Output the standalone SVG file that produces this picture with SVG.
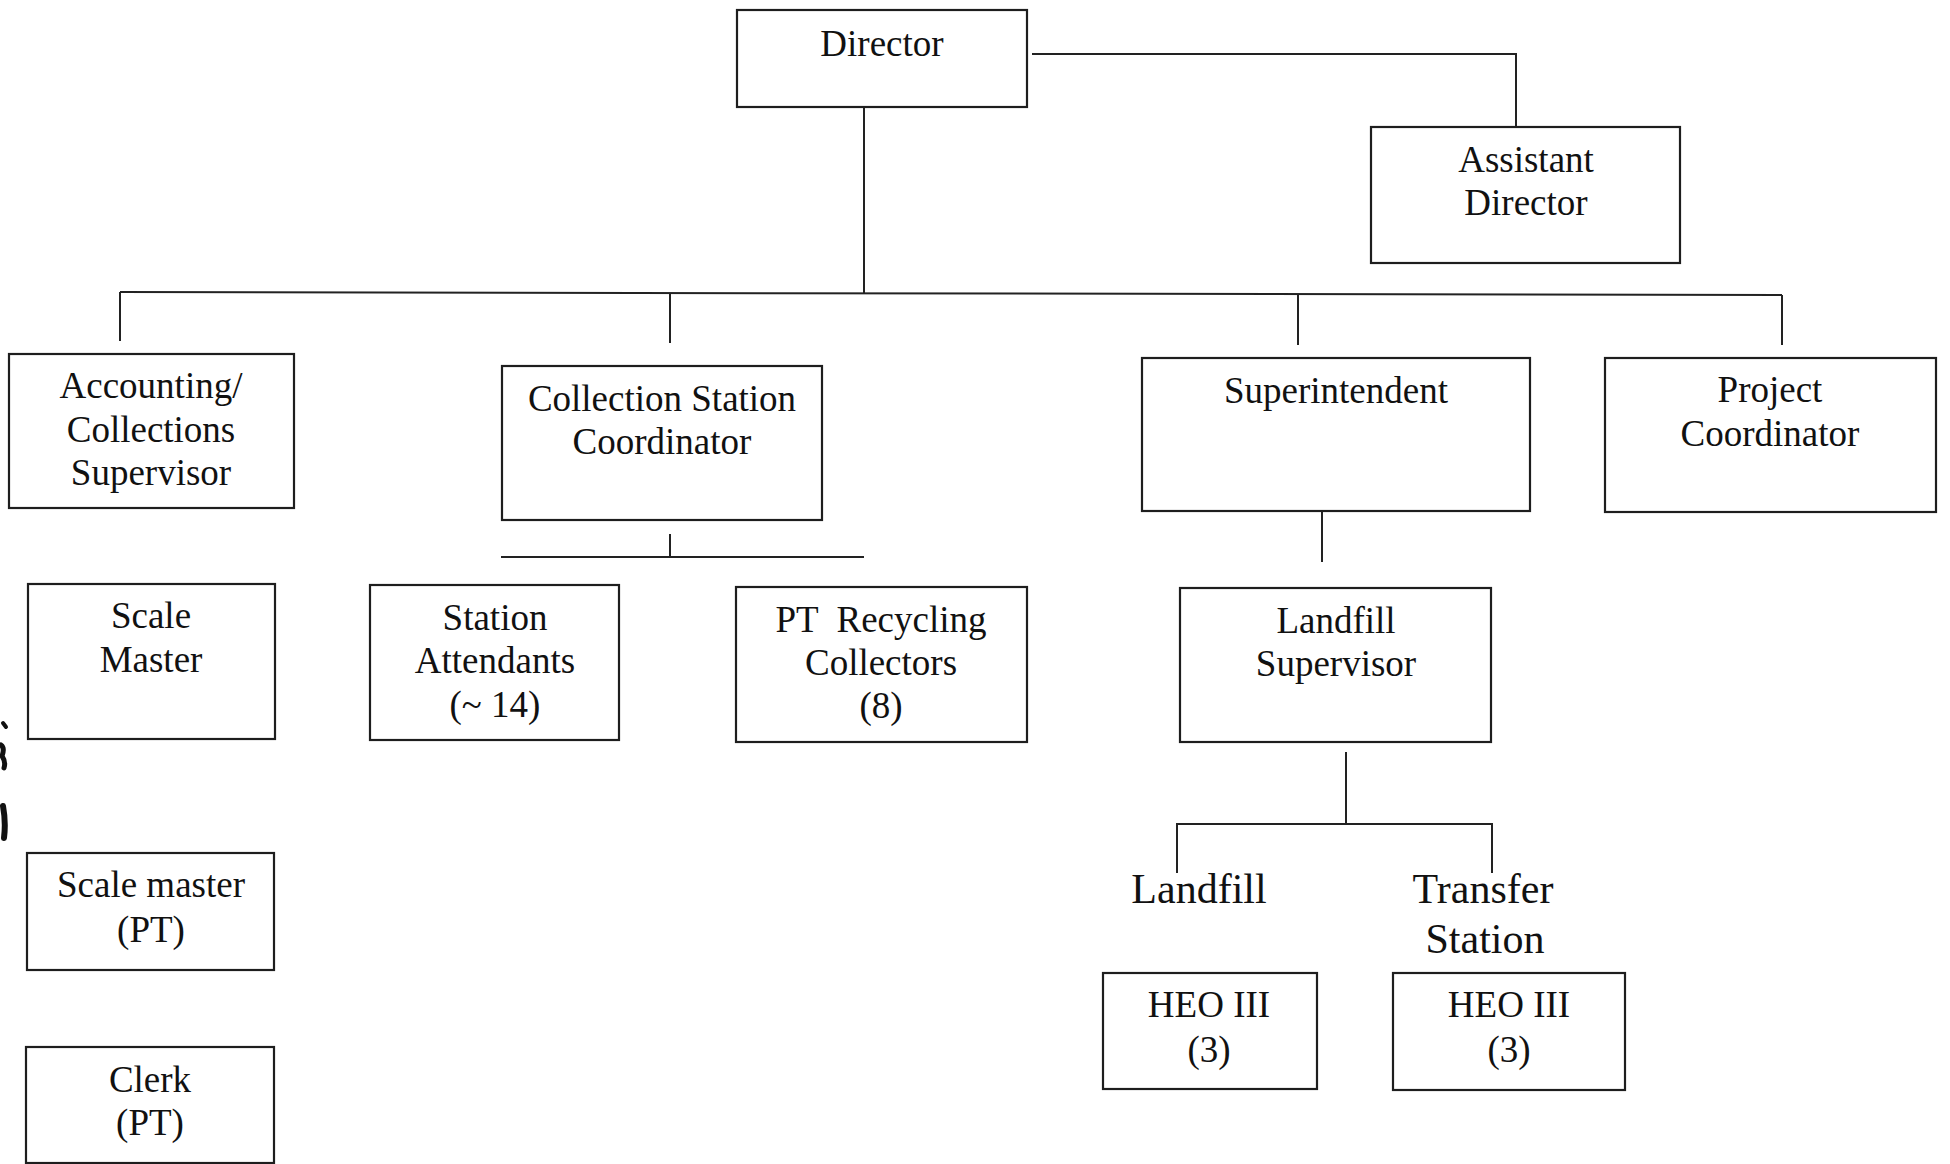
<svg xmlns="http://www.w3.org/2000/svg" width="1950" height="1164" viewBox="0 0 1950 1164">
  <style>
    .box { fill: #ffffff; stroke: #1e1e1e; stroke-width: 2.2; }
    .wire { fill: none; stroke: #222222; stroke-width: 2; }
    .lbl { font-family: "Liberation Serif", "Times New Roman", serif; font-size: 37px; fill: #111111; text-anchor: middle; white-space: pre; }
    .big { font-size: 42px; }
    .mark { fill: none; stroke: #111111; stroke-linecap: round; }
  </style>
  <rect width="1950" height="1164" fill="#ffffff"/>

  <!-- connectors -->
  <g id="connectors">
    <path class="wire" d="M1032,54 H1516 V127"/>
    <path class="wire" d="M864,106 V294"/>
    <path class="wire" d="M120,292 L1782,295"/>
    <path class="wire" d="M120,292 V341"/>
    <path class="wire" d="M670,293 V343"/>
    <path class="wire" d="M1298,294.5 V345"/>
    <path class="wire" d="M1782,295 V345"/>
    <path class="wire" d="M670,534 V557 M501,557 H864"/>
    <path class="wire" d="M1322,511 V562"/>
    <path class="wire" d="M1346,752 V824 M1177,873 V824 H1492 V873"/>
  </g>

  <!-- nodes -->
  <g id="director">
    <rect class="box" x="737" y="10" width="290" height="97"/>
    <text class="lbl" x="882" y="56">Director</text>
  </g>
  <g id="assistant-director">
    <rect class="box" x="1371" y="127" width="309" height="136"/>
    <text class="lbl" x="1526" y="172">Assistant</text>
    <text class="lbl" x="1526" y="215">Director</text>
  </g>
  <g id="accounting-supervisor">
    <rect class="box" x="9" y="354" width="285" height="154"/>
    <text class="lbl" x="151" y="398">Accounting/</text>
    <text class="lbl" x="151" y="442">Collections</text>
    <text class="lbl" x="151" y="485">Supervisor</text>
  </g>
  <g id="collection-coordinator">
    <rect class="box" x="502" y="366" width="320" height="154"/>
    <text class="lbl" x="662" y="411">Collection Station</text>
    <text class="lbl" x="662" y="454">Coordinator</text>
  </g>
  <g id="superintendent">
    <rect class="box" x="1142" y="358" width="388" height="153"/>
    <text class="lbl" x="1336" y="403">Superintendent</text>
  </g>
  <g id="project-coordinator">
    <rect class="box" x="1605" y="358" width="331" height="154"/>
    <text class="lbl" x="1770" y="402">Project</text>
    <text class="lbl" x="1770" y="446">Coordinator</text>
  </g>
  <g id="scale-master">
    <rect class="box" x="28" y="584" width="247" height="155"/>
    <text class="lbl" x="151" y="628">Scale</text>
    <text class="lbl" x="151" y="672">Master</text>
  </g>
  <g id="station-attendants">
    <rect class="box" x="370" y="585" width="249" height="155"/>
    <text class="lbl" x="495" y="630">Station</text>
    <text class="lbl" x="495" y="673">Attendants</text>
    <text class="lbl" x="495" y="717">(~ 14)</text>
  </g>
  <g id="recycling-collectors">
    <rect class="box" x="736" y="587" width="291" height="155"/>
    <text class="lbl" x="881" y="632">PT  Recycling</text>
    <text class="lbl" x="881" y="675">Collectors</text>
    <text class="lbl" x="881" y="718">(8)</text>
  </g>
  <g id="landfill-supervisor">
    <rect class="box" x="1180" y="588" width="311" height="154"/>
    <text class="lbl" x="1336" y="633">Landfill</text>
    <text class="lbl" x="1336" y="676">Supervisor</text>
  </g>
  <g id="scale-master-pt">
    <rect class="box" x="27" y="853" width="247" height="117"/>
    <text class="lbl" x="151" y="897">Scale master</text>
    <text class="lbl" x="151" y="942">(PT)</text>
  </g>
  <g id="clerk-pt">
    <rect class="box" x="26" y="1047" width="248" height="116"/>
    <text class="lbl" x="150" y="1092">Clerk</text>
    <text class="lbl" x="150" y="1135">(PT)</text>
  </g>
  <g id="landfill-site">
    <text class="lbl big" x="1199" y="903">Landfill</text>
  </g>
  <g id="transfer-station">
    <text class="lbl big" x="1483" y="903">Transfer</text>
    <text class="lbl big" x="1485" y="953">Station</text>
  </g>
  <g id="heo-landfill">
    <rect class="box" x="1103" y="973" width="214" height="116"/>
    <text class="lbl" x="1209" y="1017">HEO III</text>
    <text class="lbl" x="1209" y="1062">(3)</text>
  </g>
  <g id="heo-transfer">
    <rect class="box" x="1393" y="973" width="232" height="117"/>
    <text class="lbl" x="1509" y="1017">HEO III</text>
    <text class="lbl" x="1509" y="1062">(3)</text>
  </g>

  <!-- ink marks on the left page edge -->
  <g id="edge-marks">
    <path class="mark" stroke-width="4" d="M3,723 L6,727"/>
    <path class="mark" stroke-width="5" d="M1,745 Q5,748 2,756 Q6,762 4,768"/>
    <path class="mark" stroke-width="6" d="M3,806 Q6,822 4,838"/>
  </g>
</svg>
